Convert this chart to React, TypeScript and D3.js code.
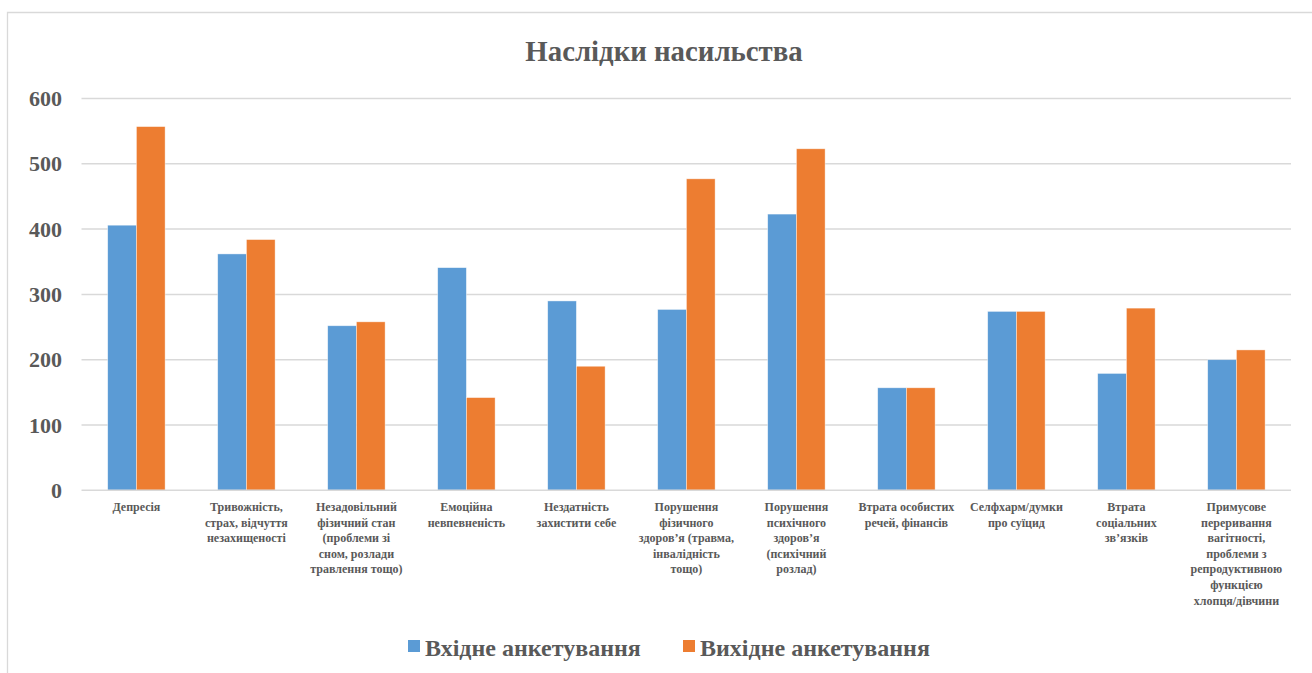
import React from "react";
import * as d3 from "d3";

const categories: string[][] = [
  ["Депресія"],
  ["Тривожність,", "страх, відчуття", "незахищеності"],
  ["Незадовільний", "фізичний стан", "(проблеми зі", "сном, розлади", "травлення тощо)"],
  ["Емоційна", "невпевненість"],
  ["Нездатність", "захистити себе"],
  ["Порушення", "фізичного", "здоров’я (травма,", "інвалідність", "тощо)"],
  ["Порушення", "психічного", "здоров’я", "(психічний", "розлад)"],
  ["Втрата особистих", "речей, фінансів"],
  ["Селфхарм/думки", "про суїцид"],
  ["Втрата", "соціальних", "зв’язків"],
  ["Примусове", "переривання", "вагітності,", "проблеми з", "репродуктивною", "функцією", "хлопця/дівчини"],
];

const seriesNames = ["Вхідне анкетування", "Вихідне анкетування"];
const entryValues = [406, 362, 252, 341, 290, 277, 423, 157, 274, 179, 200];
const exitValues = [557, 384, 258, 142, 190, 477, 523, 157, 274, 279, 215];
const yTicks = [0, 100, 200, 300, 400, 500, 600];
const colors = ["#5B9BD5", "#ED7D31"];

const W = 1312;
const H = 673;
const textColor = "#595959";
const font = "'Liberation Serif', 'Times New Roman', serif";

export default function App() {
  const ids = categories.map((_, i) => String(i));
  const x = d3
    .scaleBand<string>()
    .domain(ids)
    .range([81.4, 1291.4])
    .paddingInner(0.478)
    .paddingOuter(0.239);
  const xs = d3.scaleBand<string>().domain(["0", "1"]).range([0, x.bandwidth()]);
  const y = d3.scaleLinear().domain([0, 600]).range([490.3, 98.5]);
  const series = [entryValues, exitValues];

  return (
    <svg
      width={W}
      height={H}
      style={{ position: "absolute", left: 0, top: 0, background: "#fff" }}
      fontFamily={font}
    >
      <rect x={0} y={0} width={W} height={H} fill="#fff" />
      <path d={`M7.5,${H + 5} V12.5 H${W + 5}`} fill="none" stroke="#d9d9d9" strokeWidth={1.3} />

      <text
        x={664}
        y={61}
        textAnchor="middle"
        fontSize={28.8}
        fontWeight="bold"
        fill={textColor}
      >
        Наслідки насильства
      </text>

      {yTicks.map((t) => (
        <g key={t}>
          {t !== 0 && (
            <line x1={81.5} x2={1291} y1={y(t)} y2={y(t)} stroke="#d9d9d9" strokeWidth={1.5} />
          )}
          <text
            x={62}
            y={y(t) + 7.5}
            textAnchor="end"
            fontSize={22}
            fontWeight="bold"
            fill={textColor}
          >
            {t}
          </text>
        </g>
      ))}

      {series.map((vals, si) =>
        vals.map((v, i) => (
          <rect
            key={`${si}-${i}`}
            x={(x(String(i)) as number) + (xs(String(si)) as number)}
            y={y(v)}
            width={xs.bandwidth()}
            height={y(0) - y(v)}
            fill={colors[si]}
            stroke="#fff"
            strokeOpacity={0.6}
            strokeWidth={0.7}
          />
        ))
      )}

      <line x1={81.5} x2={1291} y1={y(0)} y2={y(0)} stroke="#d9d9d9" strokeWidth={1.5} />

      {categories.map((lines, i) => {
        const cx = (x(String(i)) as number) + x.bandwidth() / 2;
        return (
          <text
            key={i}
            x={cx}
            y={511}
            textAnchor="middle"
            fontSize={12}
            fontWeight="bold"
            fill={textColor}
          >
            {lines.map((l, j) => (
              <tspan key={j} x={cx} dy={j === 0 ? 0 : 15.6}>
                {l}
              </tspan>
            ))}
          </text>
        );
      })}

      {seriesNames.map((name, si) => {
        const lx = si === 0 ? 408 : 683;
        return (
          <g key={name}>
            <rect x={lx} y={640} width={12} height={12} fill={colors[si]} />
            <text x={lx + 17} y={656} fontSize={24} fontWeight="bold" fill={textColor}>
              {name}
            </text>
          </g>
        );
      })}
    </svg>
  );
}
